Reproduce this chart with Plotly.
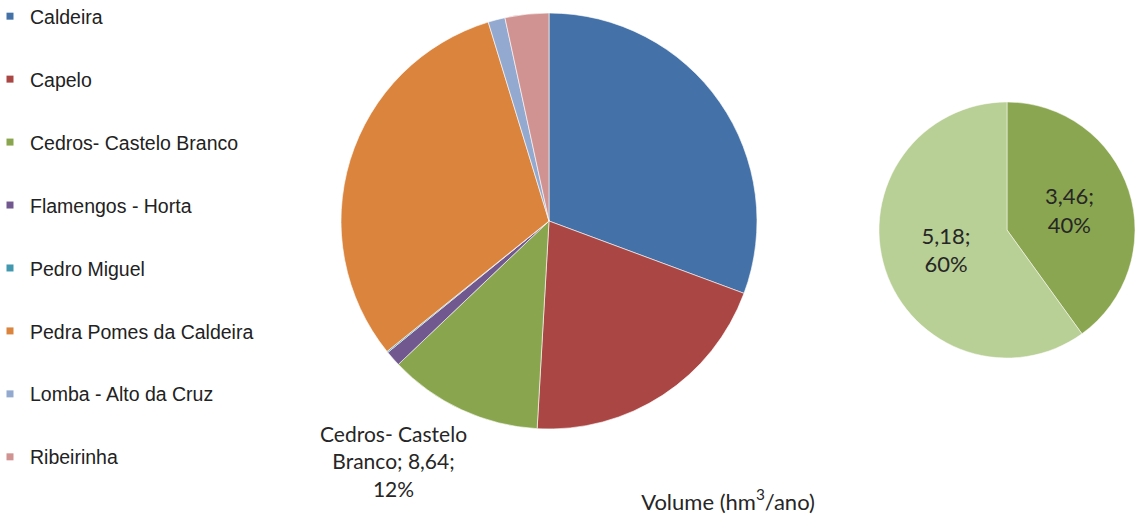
import plotly.graph_objects as go

# ---- data ----
categories = ["Caldeira", "Capelo", "Cedros- Castelo Branco", "Flamengos - Horta",
              "Pedro Miguel", "Pedra Pomes da Caldeira", "Lomba - Alto da Cruz", "Ribeirinha"]
volumes = [22.1, 14.6, 8.64, 0.88, 0.07, 22.4, 0.95, 2.45]
colors = ["#4472A8", "#AA4643", "#89A54E", "#71588F", "#4198AF", "#DB843D", "#93A9CF", "#D19392"]

sub_values = [3.46, 5.18]
sub_colors = ["#8BA651", "#B8CF95"]

title_text = "Volume (hm<sup>3</sup>/ano)"

W, H = 1137, 516
LABEL_FONT = "Lato, Open Sans, sans-serif"

def fmt(v):
    return f"{v:.2f}".replace(".", ",")

fig = go.Figure()

# main pie
fig.add_trace(go.Pie(
    labels=categories, values=volumes, sort=False, direction="clockwise", rotation=0,
    marker=dict(colors=colors, line=dict(color="rgba(255,255,255,0.6)", width=1)),
    textinfo="none", showlegend=False, hoverinfo="label+value+percent",
    domain=dict(x=[341 / W, 757 / W], y=[1 - 429 / H, 1 - 13 / H]),
))

# secondary pie (breakdown of Cedros- Castelo Branco)
sub_total = sum(sub_values)
sub_text = [f"{fmt(v)};<br>{round(100 * v / sub_total)}%" for v in sub_values]
fig.add_trace(go.Pie(
    values=sub_values, labels=["a", "b"], sort=False, direction="clockwise", rotation=0,
    marker=dict(colors=sub_colors, line=dict(color="rgba(255,255,255,0.5)", width=1)),
    text=sub_text, textinfo="text", textposition="inside", insidetextorientation="horizontal",
    textfont=dict(family=LABEL_FONT, size=22, color="#262626"),
    showlegend=False, hoverinfo="value+percent",
    domain=dict(x=[878 / W, 1136 / W], y=[1 - 358 / H, 1 - 102 / H]),
))

# legend entries
for i, (cat, col) in enumerate(zip(categories, colors)):
    fig.add_trace(go.Scatter(
        x=[None], y=[None], mode="markers", name=cat, legendgroup=f"g{i}",
        marker=dict(symbol="square", size=7, color=col),
    ))

# Cedros data label
total = sum(volumes)
ci = 2
fig.add_annotation(
    text=f"Cedros- Castelo<br>Branco; {fmt(volumes[ci])};<br>{round(100 * volumes[ci] / total)}%",
    x=393 / W, y=1 - 461 / H, xref="paper", yref="paper", xanchor="center", yanchor="middle",
    showarrow=False, font=dict(family=LABEL_FONT, size=21, color="#262626"), align="center",
)

fig.update_layout(
    width=W, height=H,
    margin=dict(l=0, r=0, t=0, b=0, autoexpand=False),
    paper_bgcolor="white", plot_bgcolor="white",
    xaxis=dict(visible=False), yaxis=dict(visible=False),
    title=dict(text=title_text, x=728 / W, xanchor="center", y=1 - 502 / H, yanchor="middle",
               font=dict(family=LABEL_FONT, size=22, color="#262626")),
    legend=dict(x=-10 / W, y=1 + 3 / H, xanchor="left", yanchor="top", tracegroupgap=34.6,
                maxheight=1000,
                font=dict(family="Liberation Sans, Arial, sans-serif", size=19.5, color="#222222"),
                bgcolor="rgba(0,0,0,0)"),
    showlegend=True,
)

fig.write_html("out.html", config={"displayModeBar": False},
               post_script="document.body.style.margin='0';")
